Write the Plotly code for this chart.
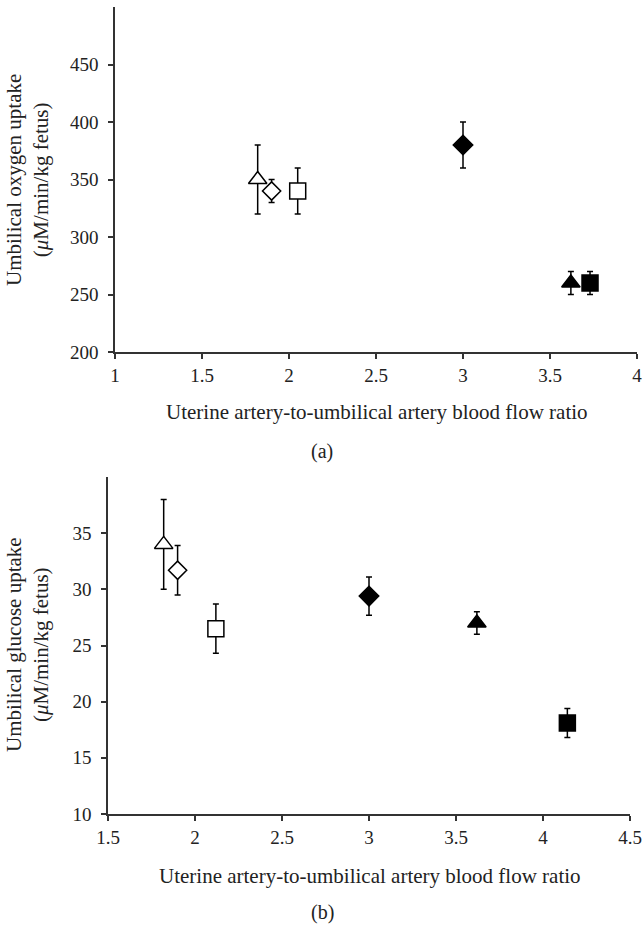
import plotly.graph_objects as go

# ---- Data: panel (a) umbilical oxygen uptake ----
a_x = [1.82, 1.90, 2.05, 3.00, 3.62, 3.73]
a_y = [350, 340, 340, 380, 260, 260]
a_err = [30, 10, 20, 20, 10, 10]

# ---- Data: panel (b) umbilical glucose uptake ----
b_x = [1.82, 1.90, 2.12, 3.00, 3.62, 4.14]
b_y = [34.0, 31.7, 26.5, 29.4, 27.0, 18.1]
b_err = [4.0, 2.2, 2.2, 1.7, 1.0, 1.3]

symbols = ["triangle-up", "diamond", "square", "diamond", "triangle-up", "square"]
fills = ["white", "white", "white", "black", "black", "black"]
sizes = [16, 14, 16, 15, 16, 16]

a_xticks = [1, 1.5, 2, 2.5, 3, 3.5, 4]
a_xticklabels = ["1", "1.5", "2", "2.5", "3", "3.5", "4"]
a_yticks = [200, 250, 300, 350, 400, 450]
b_xticks = [1.5, 2, 2.5, 3, 3.5, 4, 4.5]
b_xticklabels = ["1.5", "2", "2.5", "3", "3.5", "4", "4.5"]
b_yticks = [10, 15, 20, 25, 30, 35]

FONT = "Liberation Serif"
FS_TICK = 19
FS_TITLE = 21
W, H = 644, 925

fig = go.Figure()

def add_points(xs, ys, errs, xa, ya):
    for i in range(len(xs)):
        fig.add_trace(go.Scatter(
            x=[xs[i]], y=[ys[i]], mode="markers",
            xaxis=xa, yaxis=ya, cliponaxis=False,
            marker=dict(symbol=symbols[i], size=sizes[i], color=fills[i],
                        line=dict(color="black", width=1.5)),
            error_y=dict(type="data", array=[errs[i]], color="black",
                         thickness=1.5, width=3),
            showlegend=False))

add_points(a_x, a_y, a_err, "x", "y")
add_points(b_x, b_y, b_err, "x2", "y2")

axis_common = dict(showgrid=False, zeroline=False, showline=True,
                   automargin=False,
                   linecolor="#333", linewidth=1.5, ticks="outside",
                   ticklen=5, tickwidth=1.5, tickcolor="#333",
                   tickfont=dict(family=FONT, size=FS_TICK, color="#222"))

def px_x(p):
    return p / W

def px_y(p):
    return 1 - p / H

fig.update_layout(
    width=W, height=H,
    margin=dict(l=0, r=0, t=0, b=0, pad=0),
    paper_bgcolor="white", plot_bgcolor="white",
    xaxis=dict(domain=[px_x(115), px_x(637)], range=[1, 4],
               tickvals=a_xticks, ticktext=a_xticklabels, anchor="y",
               **axis_common),
    yaxis=dict(domain=[px_y(352), px_y(7)], range=[200, 500],
               tickvals=a_yticks, anchor="x", ticklabelstandoff=6,
               **axis_common),
    xaxis2=dict(domain=[px_x(108), px_x(630)], range=[1.5, 4.5],
                tickvals=b_xticks, ticktext=b_xticklabels, anchor="y2",
                **axis_common),
    yaxis2=dict(domain=[px_y(814), px_y(477)], range=[10, 40],
                tickvals=b_yticks, anchor="x2", ticklabelstandoff=6,
                **axis_common),
)

def ann(text, x, y, angle=0, size=FS_TITLE):
    fig.add_annotation(text=text, x=px_x(x), y=px_y(y), xref="paper",
                       yref="paper", showarrow=False, textangle=angle,
                       xanchor="center", yanchor="middle",
                       font=dict(family=FONT, size=size, color="#222"))

xtitle = "Uterine artery-to-umbilical artery blood flow ratio"
ann(xtitle, 377, 412)
ann("(a)", 322, 451, size=20)
ann(xtitle, 370, 876)
ann("(b)", 322, 912, size=20)
ann("Umbilical oxygen uptake<br>(<i>μ</i>M/min/kg fetus)", 27, 180, -90)
ann("Umbilical glucose uptake<br>(<i>μ</i>M/min/kg fetus)", 27, 645, -90)

fig.write_html(
    "out.html",
    config={"displayModeBar": False},
    post_script="document.body.style.margin='0';"
                "document.body.style.overflow='hidden';")
